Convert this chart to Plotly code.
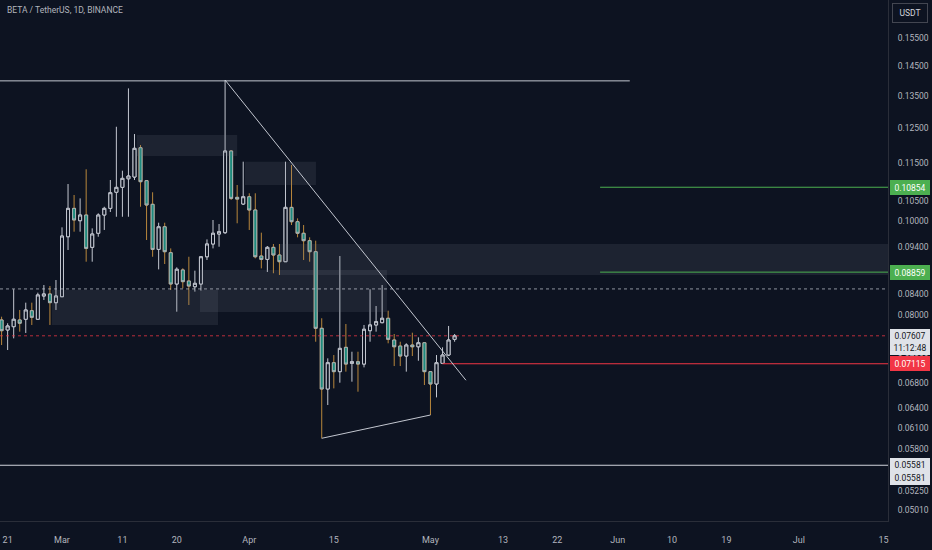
import math
import pandas as pd
import plotly.graph_objects as go

# ---- data (BETA/USDT daily, Binance) ----
start_date = "2024-02-20"
end_date = "2024-05-05"

opens = [
    0.07901, 0.07714, 0.07775, 0.07901, 0.07914, 0.08078, 0.07914, 0.08367, 0.08408, 0.08235,
    0.08353, 0.09642, 0.10319, 0.10019, 0.10156, 0.09400, 0.09722, 0.10156, 0.10319, 0.10724,
    0.10851, 0.11076, 0.11122, 0.11930, 0.11026, 0.10420, 0.09354, 0.09875, 0.09281, 0.08611,
    0.08905, 0.08673, 0.08555, 0.08611, 0.09191, 0.09476, 0.09705, 0.09736, 0.11837, 0.10595, 0.10427,
    0.10610, 0.10279, 0.09207, 0.09133, 0.09400, 0.09229, 0.09083, 0.10344, 0.09995, 0.09722,
    0.09551, 0.09303, 0.07745, 0.06698, 0.07133, 0.06982, 0.07400, 0.07122, 0.07150, 0.07110,
    0.07701, 0.07807, 0.07850, 0.07933, 0.07531, 0.07423, 0.07248, 0.07441, 0.07410, 0.07482,
    0.06982, 0.06779, 0.07122, 0.07265, 0.07543,
]
highs = [
    0.07963, 0.07839, 0.08503, 0.08092, 0.08235, 0.08235, 0.08434, 0.08590, 0.08569, 0.08694,
    0.09861, 0.10938, 0.10654, 0.10569, 0.11330, 0.09837, 0.10198, 0.10359, 0.11044, 0.12544,
    0.11292, 0.13750, 0.12328, 0.12007, 0.11044, 0.10724, 0.09971, 0.09971, 0.09377, 0.08961,
    0.08941, 0.09191, 0.08890, 0.09191, 0.09581, 0.10036, 0.09940, 0.14028, 0.11865, 0.10912, 0.11538,
    0.10698, 0.10698, 0.09736, 0.09430, 0.09476, 0.09476, 0.11538, 0.11447, 0.10075, 0.09916,
    0.09628, 0.09551, 0.07933, 0.07208, 0.07265, 0.09207, 0.07825, 0.07323, 0.07323, 0.07807,
    0.08503, 0.08169, 0.08590, 0.08078, 0.07640, 0.07500, 0.07472, 0.07664, 0.07579, 0.07482,
    0.06982, 0.07265, 0.07400, 0.07788, 0.07640,
]
lows = [
    0.07441, 0.07353, 0.07561, 0.07683, 0.07659, 0.07807, 0.07901, 0.08288, 0.07807, 0.08092,
    0.08353, 0.09341, 0.09759, 0.09759, 0.09083, 0.09083, 0.09642, 0.09799, 0.10230, 0.10114,
    0.10114, 0.10114, 0.11044, 0.10359, 0.09567, 0.09191, 0.08917, 0.09033, 0.08489, 0.08059,
    0.08522, 0.08189, 0.08455, 0.08475, 0.09120, 0.09377, 0.09414, 0.09705, 0.10528, 0.09957, 0.10402,
    0.09799, 0.09156, 0.08939, 0.08862, 0.08835, 0.08799, 0.09083, 0.09916, 0.09628, 0.09120,
    0.09083, 0.07500, 0.05953, 0.06446, 0.06708, 0.06800, 0.06982, 0.06816, 0.06655, 0.07054,
    0.07500, 0.07683, 0.07839, 0.07472, 0.07076, 0.07076, 0.06982, 0.07248, 0.07167, 0.06762,
    0.06294, 0.06565, 0.07110, 0.07248, 0.07500,
]
closes = [
    0.07701, 0.07788, 0.07914, 0.07839, 0.08092, 0.07951, 0.08388, 0.08408, 0.08235, 0.08367,
    0.09658, 0.10319, 0.10036, 0.10156, 0.09377, 0.09705, 0.10156, 0.10319, 0.10713, 0.10851,
    0.11087, 0.11149, 0.11913, 0.10999, 0.10402, 0.09354, 0.09875, 0.09303, 0.08611, 0.08920,
    0.08659, 0.08569, 0.08625, 0.09191, 0.09476, 0.09722, 0.09759, 0.11837, 0.10569, 0.10551, 0.10610,
    0.10279, 0.09191, 0.09133, 0.09400, 0.09229, 0.09083, 0.10344, 0.09995, 0.09722, 0.09551,
    0.09303, 0.07745, 0.06698, 0.07133, 0.06982, 0.07382, 0.07110, 0.07150, 0.07110, 0.07727,
    0.07807, 0.07869, 0.07933, 0.07543, 0.07410, 0.07248, 0.07441, 0.07410, 0.07482, 0.06982,
    0.06779, 0.07133, 0.07265, 0.07531, 0.07607,
]

# drawn levels
top_line = 0.14
target_1 = 0.10854
target_2 = 0.08859
stop_level = 0.07115
last_price = 0.07607
mid_dotted = 0.0851
support = 0.05581

# grey zones: (from, to, low, high)
zones = [
    ("2024-02-28 08:00", "2024-03-26 20:00", 0.07807, 0.08489),
    ("2024-03-23 20:00", "2024-04-23 19:00", 0.08054, 0.08905),
    ("2024-04-06 02:00", "2024-07-15 18:00", 0.08799, 0.09476),
    ("2024-03-13 09:00", "2024-03-30 00:00", 0.11695, 0.12298),
    ("2024-03-31 07:00", "2024-04-12 01:00", 0.10912, 0.11538),
]

x_ticks = ["2024-02-21", "2024-03-01", "2024-03-11", "2024-03-20", "2024-04-01", "2024-04-15",
           "2024-05-01", "2024-05-13", "2024-05-22", "2024-06-01", "2024-06-10", "2024-06-19",
           "2024-07-01", "2024-07-15"]
x_labels = ["21", "Mar", "11", "20", "Apr", "15", "May", "13", "22", "Jun", "10", "19", "Jul", "15"]
y_ticks = [0.155, 0.145, 0.135, 0.125, 0.115, 0.105, 0.100, 0.094, 0.084, 0.080, 0.072,
           0.068, 0.064, 0.061, 0.058, 0.0525, 0.0501]

X_START = "2024-02-19 17:38"
X_END = "2024-07-15 18:00"
Y_LO, Y_HI = 0.048842, 0.16988

BG = "#0d1321"
UP = "#c3c7d0"
TEAL = "#1d8a7b"
WICK_DN = "#b8873c"
TXT = "#b2b5be"
GREEN = "#4caf50"
RED = "#f23645"
PLOT_H = 521.0

dates = pd.date_range(start_date, end_date, freq="D")
body_hi = [max(o, c) for o, c in zip(opens, closes)]
body_lo = [min(o, c) for o, c in zip(opens, closes)]


def yp(price):
    lo, hi = math.log10(Y_LO), math.log10(Y_HI)
    return (math.log10(price) - lo) / (hi - lo)


def hline(x0, x1, y, color, dash="solid"):
    return go.Scatter(x=[x0, x1], y=[y, y], mode="lines", hoverinfo="skip",
                      line=dict(color=color, width=1, dash=dash), showlegend=False)


fig = go.Figure()

for z0, z1, lo, hi in zones:
    fig.add_trace(go.Scatter(x=[z0, z1, z1, z0, z0], y=[lo, lo, hi, hi, lo], mode="lines",
                             fill="toself", fillcolor="rgba(120,124,138,0.16)",
                             line=dict(width=0), hoverinfo="skip", showlegend=False))

fig.add_trace(hline(X_START, X_END, mid_dotted, "rgba(200,204,214,0.7)", "dot"))
fig.add_trace(hline(X_START, X_END, last_price, "rgba(242,54,69,0.75)", "dot"))

# wicks (down wicks are orange)
fig.add_trace(go.Candlestick(
    x=dates, open=opens, high=highs, low=lows, close=closes,
    increasing=dict(line=dict(color=UP, width=1), fillcolor=BG),
    decreasing=dict(line=dict(color=WICK_DN, width=1), fillcolor=TEAL),
    whiskerwidth=0, hoverinfo="skip", showlegend=False))
# bodies with light border
fig.add_trace(go.Candlestick(
    x=dates, open=opens, high=body_hi, low=body_lo, close=closes,
    increasing=dict(line=dict(color=UP, width=1), fillcolor=BG),
    decreasing=dict(line=dict(color="#a9b3b9", width=1), fillcolor=TEAL),
    whiskerwidth=0, hoverinfo="skip", showlegend=False))

# drawings
fig.add_trace(hline(X_START, "2024-06-03", top_line, UP))
fig.add_trace(hline("2024-05-29 02:00", X_END, target_1, GREEN))
fig.add_trace(hline("2024-05-29 02:00", X_END, target_2, GREEN))
fig.add_trace(hline("2024-05-03", X_END, stop_level, RED))
fig.add_trace(hline(X_START, X_END, support, "#d1d4dc"))
i_peak = highs.index(max(highs))
fig.add_trace(go.Scatter(x=[dates[i_peak], "2024-05-06 21:00"], y=[highs[i_peak], 0.0684],
                         mode="lines", line=dict(color=UP, width=1), hoverinfo="skip",
                         showlegend=False))
i_a = dates.get_loc(pd.Timestamp("2024-04-13"))
i_b = dates.get_loc(pd.Timestamp("2024-05-01"))
fig.add_trace(go.Scatter(x=[dates[i_a], dates[i_b]], y=[lows[i_a], lows[i_b]],
                         mode="lines", line=dict(color=UP, width=1), hoverinfo="skip",
                         showlegend=False))

# price-axis labels
AX_X = 910 / 888.0
notes = [
    dict(text="USDT", y=1 - 13 / PLOT_H, bg=BG, fg="#d1d4dc", border="#434651", h=16, w=32),
    dict(text="%.5f" % target_1, y=yp(target_1), bg=GREEN, fg="#ffffff", border=GREEN, h=11, w=36),
    dict(text="%.5f" % target_2, y=yp(target_2), bg=GREEN, fg="#ffffff", border=GREEN, h=11, w=36),
    dict(text="%.5f<br>11:12:48" % last_price, y=1 - 342 / PLOT_H, bg="#dfe2e8", fg="#131722",
         border="#dfe2e8", h=22, w=36),
    dict(text="%.5f" % stop_level, y=yp(stop_level), bg=RED, fg="#ffffff", border=RED, h=11, w=36),
    dict(text="%.5f" % support, y=yp(support), bg="#dfe2e8", fg="#131722", border="#dfe2e8",
         h=10, w=36),
    dict(text="%.5f" % support, y=1 - 477.5 / PLOT_H, bg="#dfe2e8", fg="#131722",
         border="#dfe2e8", h=10, w=36),
]
for n in notes:
    fig.add_annotation(xref="paper", yref="paper", x=AX_X, y=n["y"], text=n["text"],
                       showarrow=False, xanchor="center", yanchor="middle",
                       font=dict(family="Roboto", size=8.5, color=n["fg"]),
                       bgcolor=n["bg"], bordercolor=n["border"], borderwidth=1,
                       borderpad=1, width=n["w"], height=n["h"])

fig.add_annotation(xref="paper", yref="paper", x=0.006, y=1 - 10 / PLOT_H,
                   text="BETA / TetherUS, 1D, BINANCE", showarrow=False,
                   xanchor="left", yanchor="middle",
                   font=dict(family="Roboto", size=8.5, color=TXT))

fig.update_layout(
    width=932, height=550,
    margin=dict(l=0, r=44, t=0, b=29),
    paper_bgcolor=BG, plot_bgcolor=BG,
    showlegend=False, hovermode=False,
    font=dict(family="Roboto", color=TXT),
    xaxis=dict(type="date", range=[X_START, X_END], tickvals=x_ticks, ticktext=x_labels,
               showgrid=False, zeroline=False, showline=True, linecolor="#2a2e39",
               ticks="outside", ticklen=10, tickcolor="rgba(0,0,0,0)",
               tickfont=dict(size=9, color=TXT), rangeslider=dict(visible=False)),
    yaxis=dict(type="log", side="right", range=[math.log10(Y_LO), math.log10(Y_HI)],
               tickvals=y_ticks, ticktext=["%.5f" % v for v in y_ticks],
               showgrid=False, zeroline=False, showline=True, linecolor="#2a2e39",
               ticks="outside", ticklen=7, tickcolor="rgba(0,0,0,0)",
               tickfont=dict(size=8.5, color=TXT)),
)

# the page body has a default margin; remove it so the chart fills the window
fig.write_html("out.html", config=dict(displayModeBar=False),
               post_script="document.body.style.margin='0px';"
                           "document.body.style.background='%s';" % BG)
